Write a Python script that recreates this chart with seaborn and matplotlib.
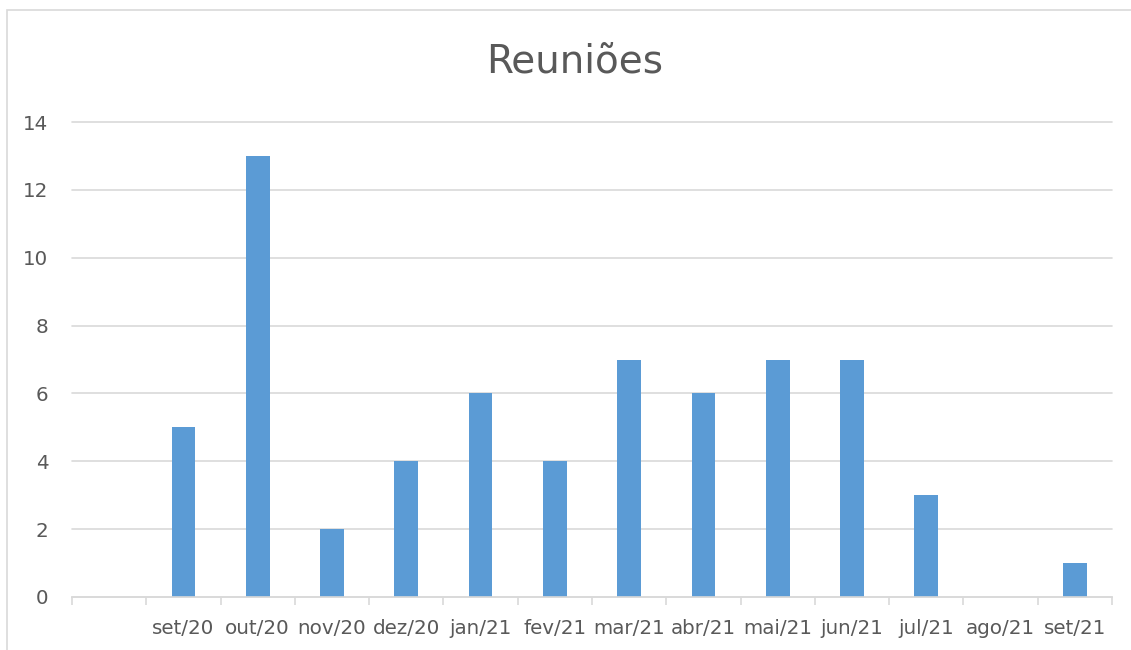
import matplotlib
matplotlib.use("Agg")
import matplotlib.pyplot as plt
import seaborn as sns
import pandas as pd
from matplotlib.patches import Rectangle

meses = ['', 'set/20', 'out/20', 'nov/20', 'dez/20', 'jan/21', 'fev/21', 'mar/21',
         'abr/21', 'mai/21', 'jun/21', 'jul/21', 'ago/21', 'set/21']
reunioes = [0, 5, 13, 2, 4, 6, 4, 7, 6, 7, 7, 3, 0, 1]
y_ticks = [0, 2, 4, 6, 8, 10, 12, 14]

df = pd.DataFrame({'mes': meses, 'reunioes': reunioes})

sns.set_style("white")
plt.rcParams['font.family'] = ['DejaVu Sans']
texto = '#595959'
grade = '#d9d9d9'

fig = plt.figure(figsize=(11.31, 6.5), dpi=100)
ax = fig.add_axes([72/1131, 53/650, 1040/1131, 475/650])

sns.barplot(data=df, x='mes', y='reunioes', order=meses, color='#5b9bd5',
            width=0.32, linewidth=0, saturation=1, ax=ax)

ax.set_ylim(0, 14)
ax.set_xlim(-0.5, len(meses) - 0.5)
ax.set_yticks(y_ticks)
ax.yaxis.grid(True, color=grade, linewidth=1.2)
for g in ax.get_ygridlines():
    g.set_clip_on(False)
ax.set_axisbelow(True)
ax.set_xlabel('')
ax.set_ylabel('')

for s in ['top', 'right', 'left']:
    ax.spines[s].set_visible(False)
ax.spines['bottom'].set_color(grade)
ax.spines['bottom'].set_linewidth(1.2)

ax.set_xticks(range(len(meses)))
ax.set_xticklabels(meses)
ax.set_xticks([i - 0.5 for i in range(len(meses) + 1)], minor=True)
ax.tick_params(axis='x', which='major', bottom=False, length=0, pad=16,
               labelsize=14.3, labelcolor=texto)
ax.tick_params(axis='x', which='minor', bottom=True, length=6, width=1.2,
               color=grade, direction='out')
ax.tick_params(axis='y', left=False, length=0, pad=17, labelsize=14.3, labelcolor=texto)

fig.text(575/1131, 1 - 62/650, 'Reuniões', ha='center', va='center',
         fontsize=28, color=texto)

# moldura do gráfico
fig.patches.append(Rectangle((7/1131, -0.1), 1.2, 1 - 10/650 + 0.1,
                             transform=fig.transFigure, fill=False,
                             edgecolor=grade, linewidth=1.2))

fig.savefig('out.png', dpi=100)
